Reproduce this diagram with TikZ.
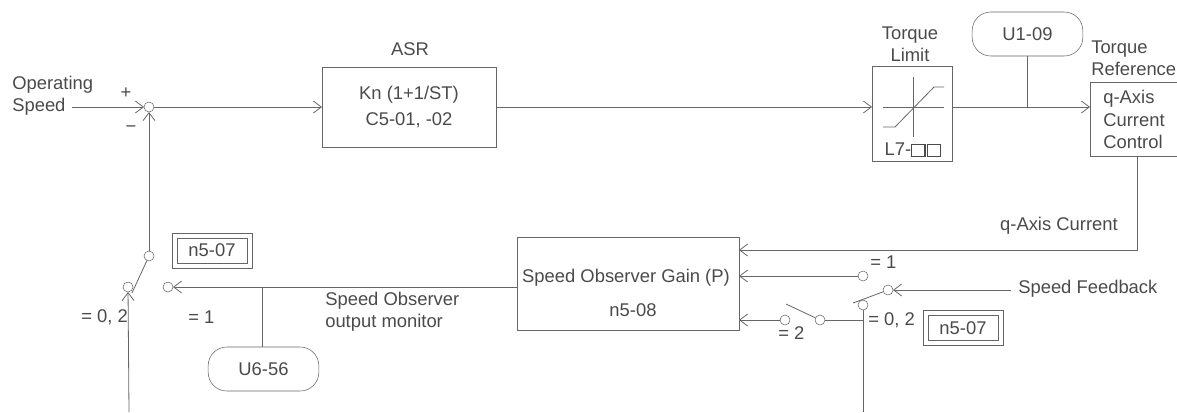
\documentclass[tikz,border=0pt]{standalone}
\usepackage{fontspec}
\setmainfont{Liberation Sans}
\usetikzlibrary{arrows.meta, positioning, fit}
\definecolor{inkgray}{HTML}{4A4A4A}
\definecolor{linegray}{HTML}{666666}
\newcommand{\sqcell}{{\setlength{\fboxsep}{0pt}\setlength{\fboxrule}{0.9pt}\fbox{\rule{0pt}{8pt}\rule{9pt}{0pt}}}}
\tikzset{
  box/.style    ={draw=linegray, outer sep=0pt, inner sep=0pt, align=center, text=inkgray, font=\fontsize{13.8}{16.5}\selectfont},
  pill/.style   ={box, rounded corners=14pt, minimum width=83pt, minimum height=33pt},
  setbox/.style ={box, minimum width=52.5pt, minimum height=18.75pt},
  setrim/.style ={draw=linegray, outer sep=0pt, inner sep=3.75pt},
  term/.style   ={circle, draw=linegray, fill=white, inner sep=0pt, outer sep=0pt, minimum size=7.5pt},
  arr/.style    ={-{Straight Barb[length=6pt, width=9pt]}, draw=linegray, line width=0.6pt},
  wire/.style   ={draw=linegray, line width=0.6pt},
  lbl/.style    ={font=\fontsize{13.8}{16.5}\selectfont, text=inkgray, inner sep=0pt, align=left},
}
\begin{document}
\begin{tikzpicture}[x=0.75pt, y=-0.75pt]
  \useasboundingbox (0,0) rectangle (1177,412);

  \node[term]                                              (sum)  at (149,107) {};
  \node[box, minimum width=130.5pt, minimum height=60pt, right=126pt of sum,
        font=\fontsize{13.8}{19.5}\selectfont] (asr)
       {Kn (1+1/ST)\\C5-01, -02};
  \node[box, minimum width=60pt, minimum height=71.25pt, right=282pt of asr, yshift=-5.25pt] (tlim) {};
  \node[box, minimum width=66pt, minimum height=55.5pt, right=103.5pt of tlim, yshift=-4.1pt, align=left] (qc)
       {q-Axis\\[0.5pt]Current\\[0.5pt]Control};
  \node[box, minimum width=166.5pt, minimum height=69.75pt] (obs) at (628,283.5) {};
  \node[pill]                                              (uone) at (1027.5,34) {U1-09};
  \node[pill]                                              (usix) at (263.5,369) {U6-56};
  \node[setbox]                                            (setl) at (212,250.5) {n5-07};
  \node[setrim, fit=(setl)]                                (setlrim) {};
  \node[setbox]                                            (setr) at (963,328) {n5-07};
  \node[setrim, fit=(setr)]                                (setrrim) {};

  \node[term] (swlin)  at (128,287) {};
  \node[term] (swlout) at (149,256) {};
  \node[term] (swmon)  at (168,287) {};
  \node[term] (swfb)   at (888,290) {};
  \node[term] (swone)  at (863,276) {};
  \node[term] (swzero) at (863,305) {};
  \node[term] (swmid)  at (820,320) {};
  \node[term] (swtwo)  at (785,320) {};

  \coordinate (opin)   at (72,107);
  \coordinate (lbot)   at (129,412);
  \coordinate (rbot)   at (863,412);
  \coordinate (fbin)   at (1011,290);
  \coordinate (qout)   at (1137,157);
  \coordinate (obsq)   at (739,250);
  \coordinate (obsout) at (517,287);
  \coordinate (bladel) at (132,293);
  \coordinate (blader) at (853,303);
  \coordinate (blademid) at (786,304);
  \coordinate (montap) at (262,287);
  \coordinate (midtap) at (863,320);

  \node[lbl, anchor=west]  (opspeed) at (12,96)     {Operating\\Speed};
  \node[lbl]               (plus)    at (126,93)    {+};
  \node[lbl]               (minus)   at (131,129)   {\textminus};
  \node[lbl]               (asrlbl)  at (410,49)    {ASR};
  \node[lbl, align=center] (tlimlbl) at (910,44)    {Torque\\Limit};
  \node[lbl, anchor=west]  (trqref)  at (1091,58)   {Torque\\Reference};
  \node[lbl]               (l7lbl)   at (913,150)   {L7-\sqcell\hspace{1pt}\sqcell};
  \node[lbl, anchor=east]  (qcur)    at (1118,226)  {q-Axis Current};
  \node[lbl, anchor=west]  (spfb)    at (1018,289)  {Speed Feedback};
  \node[lbl]               (obsa)    at (626,278)   {Speed Observer Gain (P)};
  \node[lbl]               (obsb)    at (633,310)   {n5-08};
  \node[lbl, anchor=west]  (obsmon)  at (325,312)   {Speed Observer\\output monitor};
  \node[lbl, anchor=west]  (eqa)     at (81,317)    {= 0, 2};
  \node[lbl, anchor=west]  (eqb)     at (188,317)   {= 1};
  \node[lbl, anchor=west]  (eqc)     at (870,262)   {= 1};
  \node[lbl, anchor=west]  (eqd)     at (868,320)   {= 0, 2};
  \node[lbl, anchor=west]  (eqe)     at (778,333)   {= 2};

  \draw[arr]  (opin) -- (sum);
  \draw[arr]  (sum) -- (asr);
  \draw[arr]  (asr) -- (asr -| tlim.west);
  \draw[arr]  (asr -| tlim.east) -- (asr -| qc.west);
  \draw[wire] (uone) -- (uone |- asr);
  \draw[arr]  (qout) |- (obsq);
  \draw[arr]  (swlout) -- (sum);
  \draw[wire] (swlout) -- (bladel);
  \draw[arr]  (lbot) -- (swlin);
  \draw[arr]  (obsout) -- (swmon);
  \draw[wire] (usix.north -| montap) -- (montap);
  \draw[arr]  (swone) -- (swone -| obs.east);
  \draw[arr]  (fbin) -- (swfb);
  \draw[wire] (swfb) -- (blader);
  \draw[wire] (rbot) -- (swzero);
  \draw[wire] (midtap) -- (swmid);
  \draw[wire] (swmid) -- (blademid);
  \draw[arr]  (swtwo) -- (swtwo -| obs.east);

  \draw[wire] (913,77) -- (913,137);
  \draw[wire] (883,107) -- (944,107);
  \draw[wire] (883,127) -- (895,127) -- (934,87) -- (944,87);
\end{tikzpicture}
\end{document}
